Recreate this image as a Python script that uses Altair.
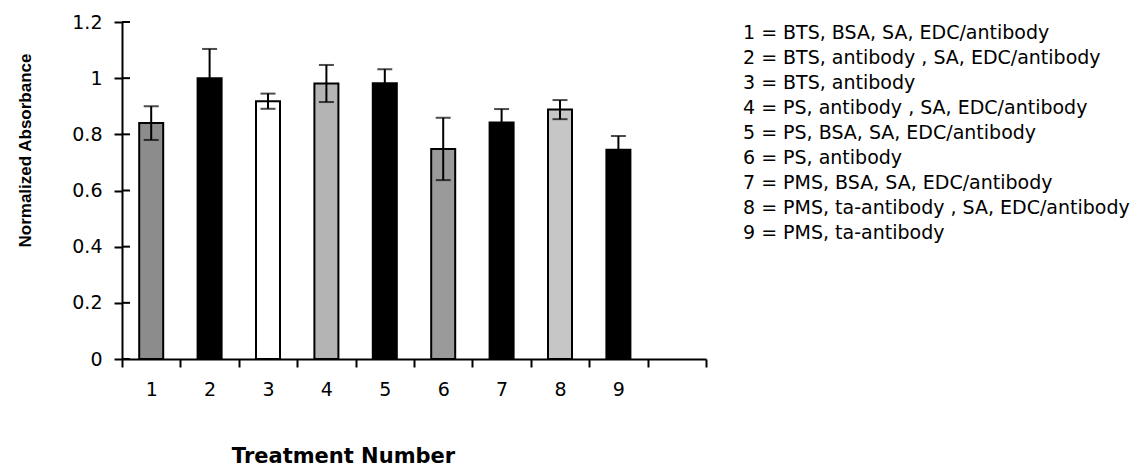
import altair as alt
import pandas as pd

# ---- data ----
treatments = ["1", "2", "3", "4", "5", "6", "7", "8", "9"]
slots = treatments + [""]          # the axis has one empty slot at the end
means = [0.840, 1.000, 0.918, 0.981, 0.982, 0.748, 0.842, 0.888, 0.745]
errors = [0.060, 0.104, 0.027, 0.066, 0.050, 0.111, 0.048, 0.034, 0.049]
fills = ["#8c8c8c", "#000000", "#ffffff", "#b4b4b4", "#000000",
         "#9a9a9a", "#000000", "#c6c6c6", "#000000"]
y_ticks = [0, 0.2, 0.4, 0.6, 0.8, 1.0, 1.2]
legend_lines = [
    "1 = BTS, BSA, SA, EDC/antibody",
    "2 = BTS, antibody , SA, EDC/antibody",
    "3 = BTS, antibody",
    "4 = PS, antibody , SA, EDC/antibody",
    "5 = PS, BSA, SA, EDC/antibody",
    "6 = PS, antibody",
    "7 = PMS, BSA, SA, EDC/antibody",
    "8 = PMS, ta-antibody , SA, EDC/antibody",
    "9 = PMS, ta-antibody",
]

df = pd.DataFrame({
    "treatment": treatments,
    "mean": means,
    "err": errors,
})
df["lo"] = df["mean"] - df["err"]
df["hi"] = df["mean"] + df["err"]

ticks_df = pd.DataFrame({"v": y_ticks})
legend_df = pd.DataFrame({"row": list(range(1, len(legend_lines) + 1)),
                          "text": legend_lines})

YTITLE = "Normalized Absorbance"
xscale = alt.Scale(domain=slots, paddingInner=0, paddingOuter=0)
yscale = alt.Scale(domain=[0, 1.2], nice=False, zero=True)

x_enc = alt.X(
    "treatment:N", scale=xscale, sort=slots,
    axis=alt.Axis(
        title="Treatment Number", tickBand="extent", labelAngle=0,
        labelFont="DejaVu Sans", labelFontSize=19, labelColor="black",
        labelPadding=13, tickSize=8, tickWidth=2, tickColor="black",
        domainColor="black", domainWidth=2,
        titleFont="DejaVu Sans", titleFontSize=21, titleFontWeight="bold",
        titleColor="black", titleX=221, titleY=97, titleAlign="center",
        titleBaseline="middle", titleAnchor=None,
    ),
)

bars = alt.Chart(df).mark_bar(width=24, stroke="black", strokeWidth=2).encode(
    x=x_enc,
    y=alt.Y(
        "mean:Q", scale=yscale, title=YTITLE,
        axis=alt.Axis(
            values=y_ticks, format="~g", grid=False,
            labelFont="DejaVu Sans", labelFontSize=19, labelColor="black",
            labelPadding=12, tickSize=8, tickWidth=2, tickColor="black",
            domainColor="black", domainWidth=2,
            titleFont="Liberation Sans", titleFontSize=17, titleFontWeight="bold",
            titleColor="black", titleX=-97, titleY=128, titleAngle=-90,
            titleAlign="center", titleBaseline="middle",
        ),
    ),
    fill=alt.Fill("treatment:N", scale=alt.Scale(domain=treatments, range=fills),
                  legend=None),
)

err_rule = alt.Chart(df).mark_rule(color="black", strokeWidth=2).encode(
    x=alt.X("treatment:N", scale=xscale, sort=slots),
    y=alt.Y("lo:Q", scale=yscale, title=YTITLE),
    y2="hi:Q",
)
cap_hi = alt.Chart(df).mark_tick(color="black", size=15, thickness=2).encode(
    x=alt.X("treatment:N", scale=xscale, sort=slots),
    y=alt.Y("hi:Q", scale=yscale, title=YTITLE),
)
cap_lo = alt.Chart(df).mark_tick(color="black", size=15, thickness=2).encode(
    x=alt.X("treatment:N", scale=xscale, sort=slots),
    y=alt.Y("lo:Q", scale=yscale, title=YTITLE),
)
# inner half of the y-axis ticks (the reference ticks cross the axis)
inner_ticks = alt.Chart(ticks_df).mark_rule(color="black", strokeWidth=2).encode(
    x=alt.value(0), x2=alt.value(8),
    y=alt.Y("v:Q", scale=yscale, title=YTITLE),
)

main = alt.layer(bars, err_rule, cap_lo, cap_hi, inner_ticks)

legend = alt.Chart(legend_df).mark_text(
    align="left", baseline="middle", font="DejaVu Sans", fontSize=19,
    color="black",
).encode(
    x=alt.value(621),
    y=alt.Y("row:Q", scale=alt.Scale(domain=[0.56, 14.04], reverse=True),
            axis=None),
    text="text:N",
)

chart = alt.layer(main, legend).resolve_scale(y="independent").properties(
    width=584, height=337,
    autosize=alt.AutoSizeParams(type="none"),
    padding={"left": 122, "top": 22, "right": 437, "bottom": 109},
    background="white",
).configure_view(stroke=None)

chart.save("out.html", embed_options={"renderer": "svg", "actions": False})
